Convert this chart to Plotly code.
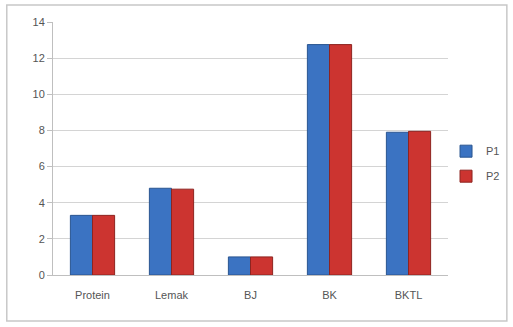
import plotly.graph_objects as go

categories = ["Protein", "Lemak", "BJ", "BK", "BKTL"]
p1_values = [3.3, 4.8, 1.0, 12.75, 7.9]
p2_values = [3.3, 4.75, 1.0, 12.75, 7.95]
y_ticks = [0, 2, 4, 6, 8, 10, 12, 14]

fig = go.Figure()
fig.add_trace(go.Bar(name="P1", x=categories, y=p1_values, legendgroup="a",
                     marker=dict(color="#3b73c2", line=dict(color="#2a5590", width=1))))
fig.add_trace(go.Bar(name="P2", x=categories, y=p2_values, legendgroup="b",
                     marker=dict(color="#cc3430", line=dict(color="#8e2420", width=1))))

fig.update_layout(
    width=513, height=327,
    margin=dict(l=53, r=65, t=22, b=52, autoexpand=False),
    paper_bgcolor="white", plot_bgcolor="white",
    barmode="group", bargap=0.44, bargroupgap=0,
    font=dict(family="Liberation Sans, Arial", size=11, color="#555555"),
    showlegend=True,
    legend=dict(x=0.995, y=0.44, xanchor="left", yanchor="middle",
                font=dict(size=11, color="#555555"), tracegroupgap=6,
                itemwidth=30, bgcolor="rgba(0,0,0,0)"),
    shapes=[dict(type="rect", xref="paper", yref="paper",
                 x0=-0.117, x1=1.149, y0=-0.182, y1=1.067,
                 line=dict(color="#c8c8c8", width=1.5), layer="below")],
)
fig.update_yaxes(range=[0, 14], tickvals=y_ticks, showgrid=True, gridcolor="#d4d4d4",
                 gridwidth=1, showline=True, linecolor="#bfbfbf", ticks="outside",
                 ticklen=5, tickcolor="#bfbfbf", zeroline=False)
fig.update_xaxes(showline=True, linecolor="#bfbfbf", ticks="", tickfont=dict(size=11),
                 ticklabelstandoff=10)

fig.write_html("out.html")
